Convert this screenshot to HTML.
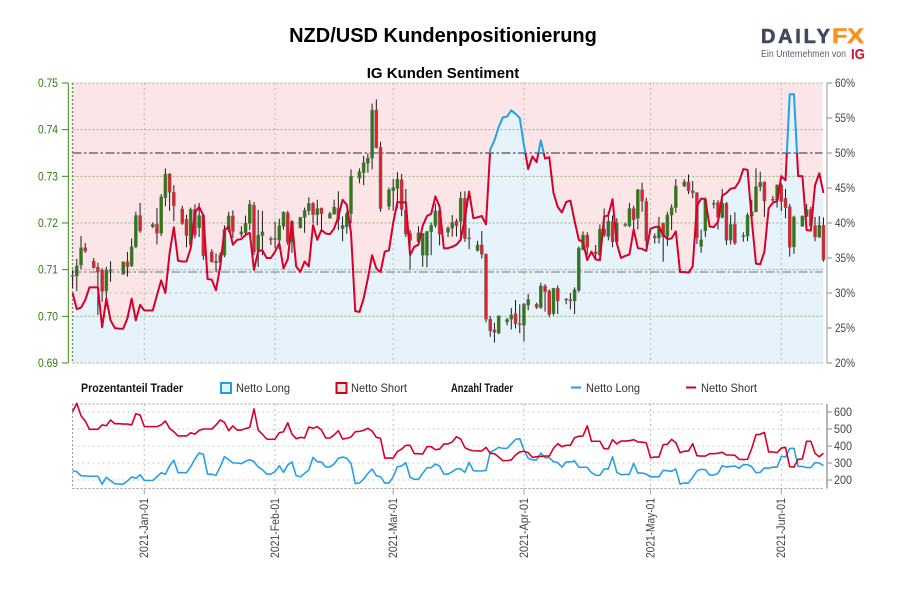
<!DOCTYPE html>
<html lang="de">
<head>
<meta charset="utf-8">
<title>NZD/USD Kundenpositionierung</title>
<style>
html,body{margin:0;padding:0;background:#fff;}
#chart{display:block;width:900px;height:600px;}
text{font-family:"Liberation Sans Narrow","Liberation Sans",sans-serif;}
.b{font-family:"Liberation Sans",sans-serif;font-weight:bold;}
</style>
</head>
<body>
<svg id="chart" xmlns="http://www.w3.org/2000/svg" width="900" height="600" viewBox="0 0 900 600">
  <rect x="0" y="0" width="900" height="600" fill="#fff"/>
  <text class="b" x="443" y="42" font-size="20" text-anchor="middle" fill="#000">NZD/USD Kundenpositionierung</text>
  <text class="b" x="443" y="78" font-size="15" text-anchor="middle" fill="#000">IG Kunden Sentiment</text>

  <g>
    <text class="b" x="761" y="43" font-size="20" fill="#3f4a5c" stroke="#3f4a5c" stroke-width="0.6" textLength="69" lengthAdjust="spacing">DAILY</text>
    <text class="b" x="832" y="43" font-size="21" fill="#f7931e" stroke="#f7931e" stroke-width="0.6" textLength="32" lengthAdjust="spacingAndGlyphs">FX</text>
    <text x="761" y="57" font-size="10" fill="#55606e" style="font-family:'Liberation Sans',sans-serif" textLength="85" lengthAdjust="spacingAndGlyphs">Ein Unternehmen von</text>
    <text class="b" x="851" y="59" font-size="15" fill="#d8102a" textLength="14" lengthAdjust="spacingAndGlyphs">IG</text>
  </g>

  <g id="main-panel"></g>
  <g id="count-panel"></g>

  <g>
    <text x="81" y="392" font-size="12" font-weight="bold" fill="#111" textLength="102" lengthAdjust="spacingAndGlyphs">Prozentanteil Trader</text>
    <rect x="221" y="383" width="10" height="10" fill="#e6f3fb" stroke="#1f9fe8" stroke-width="2"/>
    <text x="236" y="392" font-size="12" fill="#333" textLength="54" lengthAdjust="spacingAndGlyphs">Netto Long</text>
    <rect x="336.500" y="383" width="10" height="10" fill="#f6e8ea" stroke="#d0021b" stroke-width="2"/>
    <text x="351" y="392" font-size="12" fill="#333" textLength="56" lengthAdjust="spacingAndGlyphs">Netto Short</text>
    <text x="451" y="392" font-size="12" font-weight="bold" fill="#111" textLength="62" lengthAdjust="spacingAndGlyphs">Anzahl Trader</text>
    <line x1="571" y1="387.500" x2="581" y2="387.500" stroke="#1f9fe8" stroke-width="2"/>
    <text x="586" y="392" font-size="12" fill="#333" textLength="54" lengthAdjust="spacingAndGlyphs">Netto Long</text>
    <line x1="686" y1="387.500" x2="696" y2="387.500" stroke="#d0021b" stroke-width="2"/>
    <text x="701" y="392" font-size="12" fill="#333" textLength="56" lengthAdjust="spacingAndGlyphs">Netto Short</text>
  </g>
</svg>

<script>
// ---------- chart data (day = days since 2021-01-01) ----------
const dateLabels = ['2021-Jan-01','2021-Feb-01','2021-Mar-01','2021-Apr-01','2021-May-01','2021-Jun-01'];
const dateDays = [0,31,59,90,120,151];
const priceTicks = [0.75,0.74,0.73,0.72,0.71,0.70,0.69];
const percentTicks = [60,55,50,45,40,35,30,25,20];
const percentGrid = [30];
const countTicks = [600,500,400,300,200];
const neutralPercent = 50;
const currentPercent = 33;

const candleDays = [
-17,-16,-15,-14,-12,-11,-10,-9,-8,-5,-4,-3,-2,-1,2,3,4,5,6,7,
9,10,11,12,13,14,16,17,18,19,20,21,23,24,25,26,27,28,30,31,
32,33,34,35,37,38,39,40,41,42,44,45,46,47,48,49,51,52,53,54,
55,56,58,59,60,61,62,63,65,66,67,68,69,70,72,73,74,75,76,77,
79,80,81,82,83,84,86,87,88,89,90,91,93,94,95,96,97,98,100,101,
102,103,104,105,107,108,109,110,111,112,114,115,116,117,118,119,121,122,123,124,
125,126,128,129,130,131,132,133,135,136,137,138,139,140,142,143,144,145,146,147,
149,150,151,152,153,154,156,157,158,159,160,161];
const candleOpen = [
.7087,.7087,.7110,.7147,.7118,.7105,.7099,.7054,.7099,.7090,.7117,.7108,.7149,.7216,.7192,.7197,.7178,.7254,.7305,.7266,
.7230,.7208,.7153,.7229,.7190,.7216,.7138,.7118,.7116,.7131,.7185,.7215,.7176,.7179,.7199,.7238,.7141,.7173,.7165,.7165,
.7163,.7193,.7222,.7159,.7190,.7212,.7226,.7242,.7218,.7232,.7210,.7219,.7232,.7188,.7192,.7220,.7296,.7308,.7328,.7339,
.7442,.7362,.7236,.7269,.7274,.7293,.7228,.7178,.7160,.7131,.7131,.7181,.7195,.7226,.7180,.7189,.7204,.7203,.7253,.7168,
.7141,.7153,.7133,.6994,.6971,.6964,.6988,.6994,.7006,.6984,.6981,.7024,.7026,.7019,.7065,.7054,.7006,.7060,.7037,.7036,
.7033,.7056,.7143,.7174,.7138,.7131,.7187,.7171,.7203,.7160,.7195,.7194,.7231,.7210,.7271,.7246,.7172,.7168,.7199,.7171,
.7217,.7233,.7279,.7288,.7269,.7265,.7150,.7183,.7242,.7244,.7212,.7242,.7163,.7197,.7172,.7172,.7215,.7224,.7278,.7288,
.7251,.7249,.7281,.7253,.7235,.7149,.7193,.7214,.7229,.7194,.7170,.7195];
const candleHigh = [
.7099,.7123,.7172,.7157,.7125,.7115,.7103,.7106,.7118,.7117,.7138,.7167,.7224,.7243,.7201,.7232,.7262,.7317,.7307,.7281,
.7237,.7218,.7233,.7240,.7243,.7216,.7144,.7135,.7137,.7195,.7224,.7227,.7193,.7216,.7249,.7245,.7228,.7226,.7171,.7203,
.7209,.7225,.7226,.7206,.7213,.7233,.7255,.7245,.7250,.7233,.7224,.7250,.7268,.7214,.7225,.7315,.7317,.7344,.7349,.7456,
.7465,.7374,.7276,.7294,.7309,.7305,.7273,.7185,.7193,.7178,.7182,.7201,.7242,.7240,.7193,.7217,.7209,.7267,.7268,.7189,
.7162,.7183,.7135,.7001,.6986,.7002,.6997,.7018,.7035,.7026,.7029,.7048,.7029,.7072,.7069,.7058,.7061,.7066,.7039,.7050,
.7062,.7150,.7182,.7180,.7153,.7197,.7231,.7225,.7216,.7210,.7201,.7243,.7237,.7273,.7286,.7254,.7178,.7213,.7201,.7224,
.7240,.7294,.7294,.7304,.7290,.7266,.7186,.7255,.7249,.7249,.7273,.7245,.7217,.7223,.7180,.7222,.7250,.7317,.7310,.7289,
.7258,.7283,.7285,.7273,.7241,.7216,.7216,.7241,.7235,.7213,.7215,.7212];
const candleLow = [
.7061,.7054,.7101,.7136,.7103,.7003,.7031,.7021,.7074,.7090,.7085,.7106,.7146,.7179,.7189,.7154,.7172,.7236,.7226,.7204,
.7196,.7148,.7150,.7167,.7170,.7121,.7115,.7095,.7113,.7127,.7180,.7168,.7170,.7175,.7185,.7131,.7106,.7131,.7153,.7146,
.7144,.7186,.7153,.7136,.7188,.7179,.7217,.7199,.7195,.7181,.7210,.7218,.7185,.7161,.7177,.7199,.7285,.7281,.7308,.7315,
.7360,.7224,.7228,.7226,.7231,.7215,.7170,.7100,.7156,.7106,.7105,.7131,.7190,.7152,.7170,.7171,.7171,.7161,.7160,.7144,
.7139,.7124,.6987,.6956,.6944,.6962,.6981,.6972,.6974,.6964,.6946,.7013,.7016,.7016,.7010,.6998,.7002,.7005,.7026,.7015,
.7005,.7052,.7141,.7131,.7121,.7129,.7170,.7163,.7148,.7159,.7192,.7191,.7186,.7186,.7224,.7145,.7156,.7156,.7117,.7151,
.7185,.7222,.7277,.7262,.7253,.7155,.7136,.7170,.7231,.7186,.7210,.7153,.7154,.7153,.7160,.7161,.7213,.7223,.7268,.7213,
.7243,.7233,.7225,.7210,.7128,.7134,.7192,.7212,.7186,.7161,.7168,.7117];
const candleClose = [
.7088,.7108,.7147,.7140,.7104,.7095,.7054,.7099,.7100,.7117,.7106,.7149,.7216,.7183,.7197,.7178,.7256,.7305,.7266,.7237,
.7199,.7173,.7229,.7174,.7216,.7130,.7117,.7115,.7131,.7186,.7215,.7182,.7181,.7200,.7240,.7138,.7174,.7181,.7166,.7167,
.7194,.7223,.7159,.7203,.7212,.7227,.7242,.7218,.7231,.7220,.7220,.7234,.7207,.7195,.7220,.7300,.7310,.7329,.7339,.7442,
.7361,.7231,.7271,.7276,.7294,.7229,.7176,.7163,.7179,.7178,.7182,.7195,.7226,.7176,.7189,.7201,.7194,.7253,.7167,.7166,
.7153,.7133,.6994,.6969,.6966,.7001,.6993,.7003,.6984,.6982,.7026,.7036,.7019,.7065,.7053,.7004,.7060,.7033,.7036,.7033,
.7057,.7146,.7174,.7148,.7134,.7187,.7174,.7204,.7160,.7201,.7197,.7231,.7207,.7271,.7247,.7162,.7168,.7192,.7171,.7217,
.7233,.7279,.7288,.7269,.7265,.7168,.7164,.7250,.7242,.7212,.7242,.7163,.7197,.7157,.7173,.7217,.7224,.7278,.7287,.7247,
.7250,.7281,.7246,.7233,.7148,.7213,.7215,.7229,.7194,.7170,.7195,.7121];

const firstSeriesDay = -17;
const longPercent = [
30.0,27.7,27.9,29.0,30.8,30.8,30.8,25.1,29.2,26.1,25.0,24.9,24.9,26.4,29.2,26.1,28.3,27.5,27.5,27.5,
29.7,31.8,30.0,35.7,39.4,34.6,34.5,34.5,36.4,41.5,42.3,41.1,32.0,31.9,30.4,33.8,39.0,39.5,36.9,37.6,
37.7,38.3,38.6,33.3,36.0,36.1,35.0,35.0,35.9,37.1,33.5,34.8,40.2,33.8,33.0,34.5,33.8,39.7,37.6,39.0,
38.5,38.4,39.2,40.9,43.3,42.6,38.6,27.4,27.3,29.2,32.1,35.4,33.5,33.0,35.9,36.1,40.0,43.0,42.9,43.0,
35.4,36.6,36.9,39.6,41.0,41.3,43.8,42.3,36.4,36.4,36.6,36.9,37.6,40.7,44.5,40.7,40.8,41.0,39.8,50.5,
51.8,53.7,55.1,55.2,56.1,55.6,55.0,51.1,47.7,49.5,48.7,51.8,49.2,49.4,44.3,42.3,41.5,43.0,43.2,40.3,
37.6,37.3,34.7,35.9,34.8,34.7,40.9,41.1,43.4,37.1,35.0,35.3,35.5,39.1,36.4,36.3,36.0,39.2,39.4,39.5,
38.3,37.7,37.8,38.8,33.0,33.0,32.9,33.8,42.4,43.5,43.4,39.5,39.4,40.2,43.9,44.3,44.9,45.0,45.9,47.7,
47.6,40.4,34.2,34.1,35.9,42.1,42.9,43.1,46.7,46.1,58.4,58.4,46.7,46.7,39.0,38.9,45.4,47.1,44.3];
const longCount = [
255,249,225,224,222,222,222,175,216,196,178,176,176,194,218,210,231,198,197,197,
219,243,234,284,316,243,243,243,278,324,359,351,234,234,228,278,337,320,300,300,
296,310,320,308,276,261,235,235,249,284,245,288,306,225,219,239,259,333,308,305,
277,277,294,328,335,328,298,180,182,206,239,265,225,219,182,182,219,278,282,302,
216,204,204,239,272,272,294,282,235,235,249,265,265,245,304,255,253,253,257,363,
376,392,386,386,412,439,443,376,328,318,318,359,331,331,308,302,276,306,306,312,
275,275,275,243,228,228,265,265,337,245,231,233,233,298,241,241,235,218,219,219,
257,255,251,265,176,182,182,216,253,263,261,229,229,239,284,276,280,282,269,290,
290,278,243,245,271,269,276,275,339,335,386,386,280,280,273,273,302,300,284];
const shortCount = [
602,651,578,547,498,498,498,524,519,553,531,531,529,529,524,590,582,514,514,514,
514,524,547,504,484,459,459,459,478,470,492,500,500,500,524,553,539,490,518,494,
494,502,510,618,494,469,441,439,441,478,484,537,470,443,451,447,512,504,514,494,
447,447,465,490,441,445,453,484,486,492,504,488,451,445,329,329,329,367,382,404,
404,355,355,353,396,396,378,382,412,412,424,455,441,390,378,372,371,371,392,357,
355,335,314,314,318,347,365,369,361,333,337,339,341,341,386,414,396,404,404,449,
457,459,519,428,428,428,384,384,437,412,429,429,431,437,424,423,418,331,335,335,
408,410,439,420,361,369,371,414,343,341,341,355,355,357,363,347,347,345,322,320,
322,386,467,469,480,365,365,361,388,392,278,276,322,324,428,428,357,337,357];

// ---------- scales ----------
const X0 = 144.3, DAY_W = 4.2185;
const PLOT_L = 72.5, PLOT_R = 822.5, PLOT_T = 83, PLOT_B = 363;
const CNT_T = 404, CNT_B = 488.5;
const AXIS_R = 827;
function xScale(day){ return X0 + DAY_W * day; }
function priceY(p){ return PLOT_T + (0.75 - p) / 0.06 * (PLOT_B - PLOT_T); }
function percentY(v){ return PLOT_T + (60 - v) / 40 * (PLOT_B - PLOT_T); }
function countY(v){ return 480 - (v - 200) * 0.17; }
function seriesX(i){ return xScale(firstSeriesDay + i); }

const NS = 'http://www.w3.org/2000/svg';
function make(parent, tag, attrs, text){
  const el = document.createElementNS(NS, tag);
  for (const k in attrs) el.setAttribute(k, attrs[k]);
  if (text !== undefined) el.textContent = text;
  parent.appendChild(el);
  return el;
}
const main = document.getElementById('main-panel');
const cnt = document.getElementById('count-panel');
let el;

// ---------- main panel: fills ----------
el = make(main, 'rect', {x:PLOT_L, y:PLOT_T, width:PLOT_R-PLOT_L, height:PLOT_B-PLOT_T, fill:'#fbe5e6'});


let pts = longPercent.map((v,i)=>seriesX(i).toFixed(2)+','+percentY(v).toFixed(2));
el = make(main, 'polygon', {points: pts.join(' ')+' '+seriesX(longPercent.length-1).toFixed(2)+','+PLOT_B+' '+seriesX(0).toFixed(2)+','+PLOT_B, fill:'#e6f3fb'});



// ---------- main panel: grid ----------
dateDays.forEach(function(d){
  el = make(main, 'line', {x1:xScale(d), x2:xScale(d), y1:PLOT_T, y2:PLOT_B, stroke:'#bdb9b9', 'stroke-width':1, 'stroke-dasharray':'2 3'});
  
  
});
percentGrid.forEach(function(v){
  el = make(main, 'line', {x1:PLOT_L, x2:PLOT_R, y1:percentY(v), y2:percentY(v), stroke:'#c4c4c4', 'stroke-width':1, 'stroke-dasharray':'3 3'});
  
  
});
priceTicks.forEach(function(p){
  const y = priceY(p);
  el = make(main, 'line', {x1:PLOT_L, x2:PLOT_R, y1:y, y2:y, stroke:'#97b47a', 'stroke-width':1, 'stroke-dasharray':'2 2'});
  
  
});
el = make(main, 'line', {x1:PLOT_L, x2:PLOT_L, y1:PLOT_T, y2:PLOT_B, stroke:'#6f8a5a', 'stroke-width':1.4, 'stroke-dasharray':'2 2'});



el = make(main, 'line', {x1:PLOT_L, x2:PLOT_R, y1:percentY(neutralPercent), y2:percentY(neutralPercent), stroke:'#857b7d', 'stroke-width':1.8, 'stroke-dasharray':'9 2.500 2.500 2.500'});


el = make(main, 'line', {x1:PLOT_L, x2:PLOT_R, y1:percentY(currentPercent), y2:percentY(currentPercent), stroke:'#8d8d8d', 'stroke-width':1.2, 'stroke-dasharray':'9 2.500 2.500 2.500'});



// ---------- main panel: candles ----------
candleDays.forEach(function(d,i){
  const up = candleClose[i] >= candleOpen[i];
  const x = xScale(d);
  el = make(main, 'line', {x1:x, x2:x, y1:priceY(candleHigh[i]), y2:priceY(candleLow[i]), stroke:'#1c1c1c', 'stroke-width':1});
  
  
  const top = priceY(Math.max(candleOpen[i], candleClose[i]));
  const h = Math.max(1, Math.abs(priceY(candleOpen[i]) - priceY(candleClose[i])));
  el = make(main, 'rect', {x:x-1.5, y:top, width:3, height:h, fill: up ? '#2a7d0e' : '#e3202c', stroke:'#6b6b6b', 'stroke-width':0.5});
  
  
});

// ---------- main panel: sentiment line, coloured by side of the neutral level ----------
(function(){
  const segs = [];
  let cur = null;
  function push(x,y,color){
    if (!cur || cur.color !== color){
      const last = cur ? cur.pts[cur.pts.length-1] : null;
      cur = {color:color, pts: last ? [last] : []};
      segs.push(cur);
    }
    cur.pts.push(x.toFixed(2)+','+y.toFixed(2));
  }
  longPercent.forEach(function(v,i){
    const x = seriesX(i), y = percentY(v);
    const color = v > neutralPercent ? '#25a0e8' : '#d6002a';
    if (i > 0){
      const pv = longPercent[i-1];
      if ((pv - neutralPercent) * (v - neutralPercent) < 0){
        const t = (neutralPercent - pv) / (v - pv);
        const cx = seriesX(i-1) + t * (x - seriesX(i-1));
        const prevColor = pv > neutralPercent ? '#25a0e8' : '#d6002a';
        push(cx, percentY(neutralPercent), prevColor);
      }
    }
    push(x, y, color);
  });
  segs.forEach(function(s){
    el = make(main, 'polyline', {points:s.pts.join(' '), fill:'none', stroke:s.color, 'stroke-width':2, 'stroke-linejoin':'round'});
    
    
  });
})();

// ---------- main panel: axes ----------
el = make(main, 'line', {x1:68.3, x2:68.3, y1:PLOT_T, y2:PLOT_B, stroke:'#3a8a08', 'stroke-width':1});


priceTicks.forEach(function(p){
  const y = priceY(p);
  el = make(main, 'line', {x1:62, x2:68, y1:y, y2:y, stroke:'#3a8a08', 'stroke-width':1});
  
  
  el = make(main, 'text', {x:38, y:y+4, 'font-size':12, fill:'#2f7a05', textLength:20, lengthAdjust:'spacingAndGlyphs'}, p.toFixed(2));
  
  
});
el = make(main, 'line', {x1:AXIS_R, x2:AXIS_R, y1:PLOT_T, y2:PLOT_B, stroke:'#bcbcbc', 'stroke-width':1.5});


percentTicks.forEach(function(v){
  const y = percentY(v);
  el = make(main, 'line', {x1:AXIS_R, x2:AXIS_R+5, y1:y, y2:y, stroke:'#8a8a8a', 'stroke-width':1});
  
  
  el = make(main, 'text', {x:835, y:y+4, 'font-size':12, fill:'#444', textLength:20, lengthAdjust:'spacingAndGlyphs'}, v+'%');
  
  
});

// ---------- count panel ----------
countTicks.forEach(function(v){
  const y = countY(v);
  el = make(cnt, 'line', {x1:PLOT_L, x2:PLOT_R, y1:y, y2:y, stroke:'#d4d4d4', 'stroke-width':1.2, 'stroke-dasharray':'2 3'});
  
  
  el = make(cnt, 'line', {x1:AXIS_R, x2:AXIS_R+5, y1:y, y2:y, stroke:'#8a8a8a', 'stroke-width':1});
  
  
  el = make(cnt, 'text', {x:834, y:y+4, 'font-size':12, fill:'#444', textLength:18, lengthAdjust:'spacingAndGlyphs'}, String(v));
  
  
});
dateDays.forEach(function(d,i){
  const x = xScale(d);
  el = make(cnt, 'line', {x1:x, x2:x, y1:CNT_T, y2:CNT_B, stroke:'#c0c0c0', 'stroke-width':1, 'stroke-dasharray':'2 3'});
  
  
  el = make(cnt, 'line', {x1:x, x2:x, y1:CNT_B, y2:CNT_B+6, stroke:'#b0b0b0', 'stroke-width':1.2});
  
  
  const lx = x + 3.8;
  el = make(cnt, 'text', {x:lx, y:498, 'font-size':12, fill:'#444', 'text-anchor':'end', transform:'rotate(-90 '+lx+' 498)', textLength:60, lengthAdjust:'spacingAndGlyphs'}, dateLabels[i]);
  
  
});
[CNT_T, CNT_B].forEach(function(y){
  el = make(cnt, 'line', {x1:PLOT_L, x2:PLOT_R, y1:y, y2:y, stroke:'#9a9a9a', 'stroke-width':1, 'stroke-dasharray':'2 2'});
  
  
});
el = make(cnt, 'line', {x1:PLOT_L, x2:PLOT_L, y1:CNT_T, y2:CNT_B, stroke:'#9a9a9a', 'stroke-width':1, 'stroke-dasharray':'2 2'});


el = make(cnt, 'line', {x1:AXIS_R, x2:AXIS_R, y1:CNT_T, y2:CNT_B, stroke:'#9c9c9c', 'stroke-width':1.5});



el = make(cnt, 'polyline', {points:longCount.map((v,i)=>seriesX(i).toFixed(2)+','+countY(v).toFixed(2)).join(' '), fill:'none', stroke:'#25a0e8', 'stroke-width':1.6, 'stroke-linejoin':'round'});


el = make(cnt, 'polyline', {points:shortCount.map((v,i)=>seriesX(i).toFixed(2)+','+countY(v).toFixed(2)).join(' '), fill:'none', stroke:'#d6002a', 'stroke-width':1.6, 'stroke-linejoin':'round'});


</script>
</body>
</html>
